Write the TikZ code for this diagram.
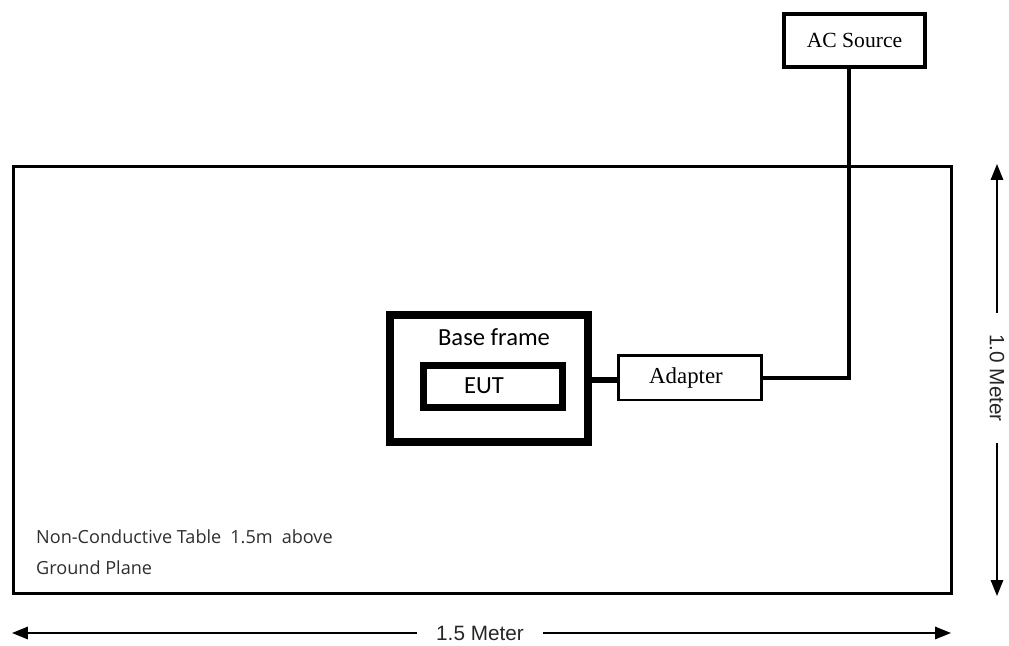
\documentclass[tikz,border=0pt]{standalone}
\usepackage{fontspec}
\setmainfont{Liberation Serif}
\newfontfamily\calfont{Carlito}
\newfontfamily\notefont{Open Sans}
\newfontfamily\dimfont{Liberation Sans}
\usepackage{tikz}
\usetikzlibrary{arrows.meta, positioning, calc}

\tikzset{
  frame/.style={draw, line width=4.5pt, inner sep=0pt},
  unit/.style={draw, line width=2.1pt, inner sep=0pt},
  wire/.style={line width=2.1pt},
  dimline/.style={line width=1pt, -{Triangle[length=9pt, width=7pt]}},
  dimtext/.style={font=\dimfont\fontsize{11.8}{14}\selectfont, text=black!85, fill=white, inner xsep=11pt},
  note/.style={font=\notefont\fontsize{10.3}{12}\selectfont, text=black!82, anchor=west}
}

\begin{document}
\begin{tikzpicture}[x=0.02cm, y=-0.02cm]
  \useasboundingbox (0,0) rectangle (1009,646);
  % table outline
  \node[draw, line width=2.1pt, minimum width=18.76cm, minimum height=8.54cm] (table) at (482.5,380) {};
  % units
  \node[unit, minimum width=2.82cm, minimum height=1.06cm, font=\fontsize{12.3}{14}\selectfont] (acsrc) at (854.5,40.5) {AC Source};
  \node[frame, minimum width=3.96cm, minimum height=2.54cm] (base) at (489,378.5) {};
  \node[font=\calfont\fontsize{14}{16}\selectfont] (baselbl) at (494,337) {Base frame};
  \node[frame, line width=4pt, minimum width=2.78cm, minimum height=0.84cm] (eut) at (493,386.5) {};
  \node[font=\calfont\fontsize{14}{16}\selectfont] (eutlbl) at (484,386) {EUT};
  \node[unit, line width=1.7pt, minimum width=2.88cm, minimum height=0.9cm, font=\fontsize{13}{15}\selectfont] (adapter) at (690,377.5) {};
  \node[font=\fontsize{13}{15}\selectfont] (adaplbl) at (686,378) {Adapter};
  % cables
  \coordinate (bend) at (849,378);
  \draw[wire] (acsrc.south -| bend) -- (bend) -- (adapter.east |- bend);
  \draw[line width=3.4pt] (base.east |- 0,380) -- (adapter.west |- 0,380);
  % notes
  \node[note] (note1) at (30,537) {Non-Conductive Table\enspace 1.5m\enspace above};
  \node[note] (note2) at (30,568) {Ground Plane};
  % dimensions
  \node[dimtext] (hlen) at (480,633) {1.5 Meter};
  \coordinate (hl) at (12,633);
  \coordinate (hr) at (951,633);
  \draw[dimline] (hlen.west) -- (hl);
  \draw[dimline] (hlen.east) -- (hr);
  \node[dimtext, rotate=-90, inner xsep=12pt] (vlen) at (997,378) {1.0 Meter};
  \coordinate (vt) at (997,164);
  \coordinate (vb) at (997,596);
  \draw[dimline] (vlen.west) -- (vt);
  \draw[dimline] (vlen.east) -- (vb);
\end{tikzpicture}
\end{document}
